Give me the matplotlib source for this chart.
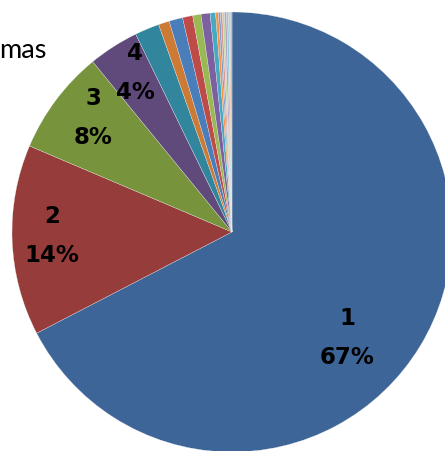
import numpy as np
import matplotlib.pyplot as plt

# slice values (share of total), clockwise from 12 o'clock
categories = ["1", "2", "3", "4", "5", "6", "7", "8", "9", "10", "11",
              "12", "13", "14", "15", "16", "17", "18", "19"]
values = [67.4, 14.0, 7.7, 3.7, 1.8, 0.8, 1.0, 0.75, 0.6, 0.67, 0.4,
          0.2, 0.15, 0.15, 0.15, 0.15, 0.15, 0.12, 0.12]
labeled = 4  # only the first slices carry a label

colors = ['#3E6597', '#963C3A', '#77933C', '#604A7B', '#31859C', '#CD7A34',
          '#4A7EBB', '#BE4B48', '#98B954', '#7D60A0', '#46AAC5', '#F69240',
          '#7C9DCE', '#D99694', '#C3D69B', '#B3A2C7', '#93CDDD', '#FAC090',
          '#A5B8DA']

# label anchors (pie radius = 1)
label_pos = [(0.523, -0.482), (-0.818, -0.018), (-0.632, 0.518), (-0.441, 0.723)]

W, H, R = 445, 451, 220
cx, cy = 232, 232

fig = plt.figure(figsize=(W / 100, H / 100), dpi=100)
ax = fig.add_axes([0, 0, 1, 1])
ax.pie(values, colors=colors, startangle=90, counterclock=False,
       wedgeprops=dict(edgecolor='#f2f2f2', linewidth=0.2))
ax.set_aspect('auto')
ax.set_xlim(-cx / R, (W - cx) / R)
ax.set_ylim(-(H - cy) / R, cy / R)
ax.axis('off')

total = sum(values)
for i in range(labeled):
    pct = round(values[i] / total * 100)
    x, y = label_pos[i]
    ax.text(x, y, f"{categories[i]}\n{pct}%", ha='center', va='center',
            fontsize=16.5, fontweight='bold', family='DejaVu Sans',
            linespacing=1.85, color='black')

# cut-off chart title
fig.text(-1, H - 58, "mas", transform=None, fontsize=19.5,
         family='Lato', va='baseline', ha='left')

fig.savefig('out.png', dpi=100)
